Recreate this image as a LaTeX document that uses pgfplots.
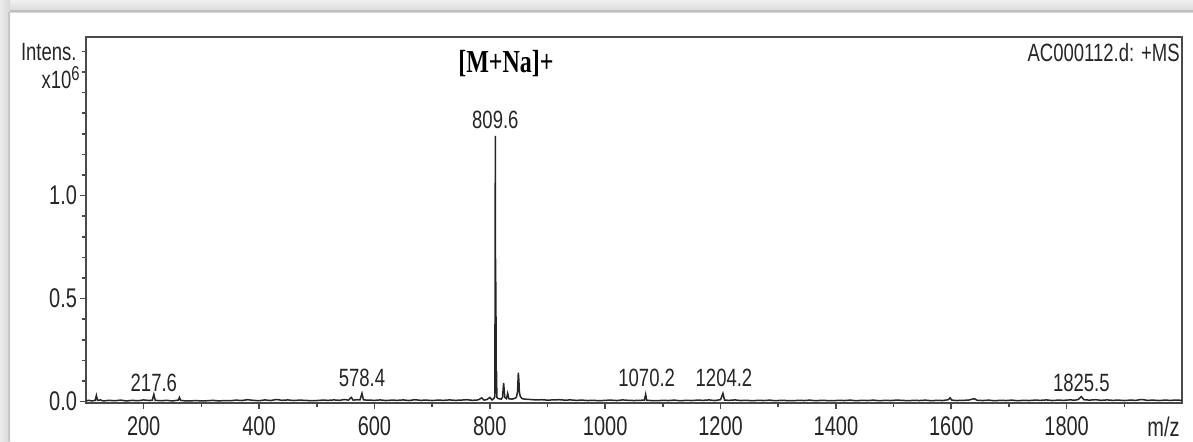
\documentclass[border=0pt]{standalone}
\usepackage{fontspec}
\setmainfont[FakeStretch=0.74]{Liberation Sans}
\newfontfamily\serifb[FakeStretch=0.75]{Liberation Serif}
\usepackage{pgfplots}
\pgfplotsset{compat=1.18}
\definecolor{txt}{HTML}{262626}
\definecolor{axc}{HTML}{4a4a4a}
\begin{document}
\begin{tikzpicture}
\path[use as bounding box] (0,0) rectangle (596.5pt,220.5pt);
% screenshot frame
\fill[top color=gray!12,bottom color=gray!30] (0,214.5pt) rectangle (596.5pt,220.5pt);
\fill[gray!50] (5pt,214.5pt) rectangle (596.5pt,215.5pt);
\fill[left color=gray!15,right color=gray!32] (0,0) rectangle (5pt,220.5pt);
\fill[gray!45] (4pt,0) rectangle (5pt,214.5pt);
\begin{axis}[
  at={(43pt,19pt)}, anchor=south west,
  width=548pt, height=183pt, scale only axis,
  xmin=100, xmax=2000, ymin=-0.007, ymax=1.77,
  axis line style={axc, line width=0.9pt},
  tick pos=left, tick align=outside,
  major tick length=2.8pt, minor tick length=2.2pt,
  every tick/.style={axc, line width=0.8pt},
  xtick={200,400,600,800,1000,1200,1400,1600,1800},
  xticklabels={200,400,600,800,1000,1200,1400,1600,1800},
  minor xtick={300,500,700,900,1100,1300,1500,1700,1900},
  ytick={0,0.5,1.0},
  yticklabels={0.0,0.5,1.0},
  minor ytick={0.1,0.2,0.3,0.4,0.6,0.7,0.8,0.9,1.1,1.2,1.3,1.4,1.5,1.6,1.7},
  /pgf/number format/assume math mode=true,
  ticklabel style={font=\fontsize{13.5}{15}\selectfont, text=txt},
  yticklabel style={inner sep=1pt, xshift=-0.5pt},
  xticklabel style={inner sep=1pt, yshift=-3pt},
  clip=false,
]
\addplot[black!85, line width=0.75pt] coordinates {
(100,0.004)(105,0.006)(110,0.003)(116,0.006)(118,0.030)(120,0.006)(125,0.008)(130,0.003)(140,0.006)(150,0.004)(160,0.007)(170,0.003)(180,0.006)(190,0.004)(200,0.008)(210,0.005)(215,0.007)(217.6,0.035)(220,0.006)(230,0.004)(240,0.006)(250,0.003)(260,0.007)(262,0.020)(264,0.006)(270,0.004)(280,0.003)(290,0.005)(300,0.003)(310,0.004)(320,0.006)(330,0.003)(340,0.005)(350,0.004)(360,0.007)(370,0.005)(380,0.009)(390,0.006)(400,0.004)(410,0.008)(420,0.005)(430,0.010)(440,0.006)(450,0.008)(460,0.005)(470,0.007)(480,0.006)(490,0.004)(500,0.005)(510,0.007)(520,0.006)(530,0.008)(540,0.006)(548,0.010)(555,0.007)(560,0.020)(563,0.007)(570,0.009)(575,0.008)(578.4,0.040)(581,0.008)(590,0.007)(600,0.006)(610,0.008)(620,0.005)(630,0.007)(640,0.006)(650,0.008)(660,0.005)(670,0.009)(680,0.006)(690,0.007)(700,0.005)(710,0.007)(720,0.006)(730,0.008)(740,0.006)(750,0.007)(760,0.009)(770,0.006)(780,0.008)(786,0.018)(790,0.007)(795,0.010)(800,0.020)(804,0.008)(807,0.015)(808.8,0.025)(809.6,1.29)(810.2,0.05)(810.6,0.58)(811.1,0.04)(811.6,0.15)(812.3,0.020)(815,0.014)(820,0.012)(822,0.020)(824,0.09)(826,0.020)(829,0.014)(831,0.040)(833,0.014)(838,0.012)(842,0.014)(846,0.020)(848,0.045)(849.5,0.14)(850.5,0.10)(851.3,0.045)(853,0.024)(856,0.014)(860,0.012)(870,0.010)(880,0.008)(890,0.009)(900,0.007)(910,0.008)(920,0.009)(930,0.007)(940,0.008)(950,0.006)(960,0.007)(970,0.005)(980,0.006)(990,0.004)(1000,0.006)(1010,0.007)(1020,0.005)(1030,0.008)(1040,0.006)(1050,0.005)(1060,0.006)(1068,0.007)(1070.2,0.035)(1072,0.006)(1080,0.005)(1090,0.004)(1100,0.006)(1110,0.005)(1120,0.007)(1130,0.004)(1140,0.006)(1150,0.005)(1160,0.007)(1170,0.006)(1180,0.008)(1190,0.005)(1200,0.009)(1204.2,0.040)(1207,0.007)(1215,0.006)(1225,0.008)(1235,0.005)(1245,0.006)(1255,0.004)(1265,0.006)(1275,0.005)(1285,0.007)(1295,0.004)(1305,0.006)(1315,0.005)(1325,0.004)(1335,0.006)(1345,0.005)(1355,0.007)(1365,0.004)(1375,0.006)(1385,0.005)(1395,0.004)(1405,0.006)(1415,0.005)(1425,0.007)(1435,0.004)(1445,0.006)(1455,0.005)(1465,0.007)(1475,0.004)(1485,0.006)(1495,0.005)(1505,0.007)(1515,0.006)(1525,0.004)(1535,0.006)(1545,0.005)(1555,0.007)(1565,0.004)(1575,0.006)(1585,0.005)(1595,0.009)(1598,0.018)(1601,0.007)(1610,0.005)(1620,0.006)(1630,0.007)(1640,0.014)(1645,0.006)(1655,0.005)(1665,0.007)(1675,0.004)(1685,0.006)(1695,0.005)(1705,0.007)(1715,0.004)(1725,0.006)(1735,0.005)(1745,0.007)(1755,0.006)(1765,0.008)(1775,0.005)(1785,0.007)(1795,0.006)(1805,0.008)(1815,0.007)(1820,0.010)(1825.5,0.024)(1830,0.009)(1840,0.007)(1850,0.009)(1860,0.006)(1870,0.008)(1880,0.006)(1890,0.007)(1900,0.005)(1910,0.007)(1920,0.006)(1930,0.010)(1940,0.006)(1950,0.007)(1960,0.005)(1970,0.007)(1980,0.006)(1990,0.007)(2000,0.006)
};
\begin{scope}[every node/.style={font=\fontsize{12.5}{14}\selectfont, text=txt, inner sep=0pt}]
\node[anchor=base] at (axis cs:217.6,0.051) {217.6};
\node[anchor=base] at (axis cs:578.4,0.075) {578.4};
\node[anchor=base] at (axis cs:809.6,1.328) {809.6};
\node[anchor=base] at (axis cs:1072,0.075) {1070.2};
\node[anchor=base] at (axis cs:1206,0.075) {1204.2};
\node[anchor=base] at (axis cs:1825.5,0.051) {1825.5};
\node[anchor=north east] at (rel axis cs:1,1) [yshift=-3pt, xshift=-1pt] {AC000112.d: +MS};
\node[anchor=east] at (axis cs:100,1.697) [xshift=-4.5pt] {Intens.};
\node[anchor=base east] at (axis cs:100,1.522) [xshift=-3pt] {x10\raisebox{4pt}{\fontsize{10}{12}\selectfont 6}};
\node[anchor=north east, font=\fontsize{13.5}{15}\selectfont] at (rel axis cs:1,0) [yshift=-7pt, xshift=-1pt] {m/z};
\end{scope}
\node[font=\serifb\bfseries\fontsize{16}{18}\selectfont, text=black] at (axis cs:828,1.643) {[M+Na]+};
\end{axis}
\end{tikzpicture}
\end{document}
